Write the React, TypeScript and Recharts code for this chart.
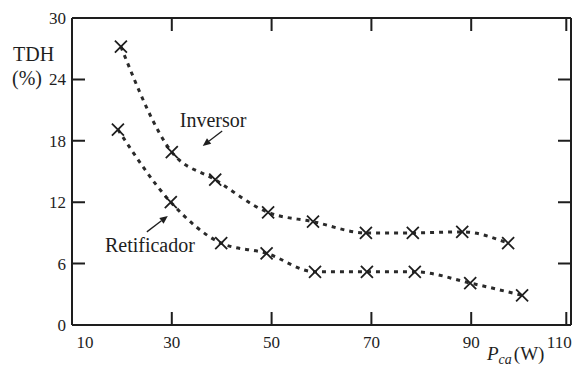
import React from 'react';
import { LineChart, Line, XAxis, YAxis, ReferenceLine, ReferenceDot, Label } from 'recharts';

const inversorP = [19.8, 30, 38.7, 49.3, 58.3, 68.9, 78.3, 88.2, 97.4];
const inversorTdh = [27.2, 16.9, 14.2, 11.0, 10.1, 9.0, 9.0, 9.1, 8.0];
const retificadorP = [19.2, 29.8, 39.9, 49.0, 58.7, 69.1, 78.7, 89.8, 100.2];
const retificadorTdh = [19.1, 12.0, 8.0, 7.0, 5.2, 5.2, 5.2, 4.1, 2.9];
const xTicks = [10, 30, 50, 70, 90, 110];
const yTicks = [0, 6, 12, 18, 24, 30];

const inversorData = inversorP.map((p, i) => ({ p, tdh: inversorTdh[i] }));
const retificadorData = retificadorP.map((p, i) => ({ p, tdh: retificadorTdh[i] }));

const FONT = '"Liberation Serif", "Times New Roman", serif';
const INK = '#1e1e1e';
const TICK = 13;

const W = 578;
const H = 366;
const M = { top: 18, right: 7, left: 72, bottom: 41 };
const PLOT_W = W - M.left - M.right;
const PLOT_H = H - M.top - M.bottom;

const XMark = (props: any) => {
  const { cx, cy } = props;
  if (cx == null || cy == null) return null;
  const s = 6;
  return (
    <path
      key={`m-${cx}-${cy}`}
      d={`M${cx - s},${cy - s}L${cx + s},${cy + s}M${cx + s},${cy - s}L${cx - s},${cy + s}`}
      stroke={INK}
      strokeWidth={1.8}
      fill="none"
    />
  );
};

// inward ticks on bottom and top of the frame, labels below
const BottomTick = (props: any) => {
  const { x, y, payload } = props;
  const v = payload.value;
  const dx = v === 10 ? 13 : v === 110 ? -7 : 0;
  const top = y - PLOT_H;
  return (
    <g>
      <path d={`M${x},${y}V${y - TICK}M${x},${top}V${top + TICK}`} stroke={INK} strokeWidth={2} fill="none" />
      <text x={x + dx} y={y} dy={23} textAnchor="middle" fontFamily={FONT} fontSize={17} fill={INK}>
        {v}
      </text>
    </g>
  );
};

// inward ticks on left and right of the frame, labels to the left
const LeftTick = (props: any) => {
  const { x, y, payload } = props;
  const right = x + PLOT_W;
  return (
    <g>
      <path d={`M${x},${y}H${x + TICK}M${right},${y}H${right - TICK}`} stroke={INK} strokeWidth={2} fill="none" />
      <text x={x - 6} y={y} dy={6} textAnchor="end" fontFamily={FONT} fontSize={17} fill={INK}>
        {payload.value}
      </text>
    </g>
  );
};

const Arrow = (props: any) => {
  const { x1, y1, x2, y2 } = props;
  const a = Math.atan2(y2 - y1, x2 - x1);
  const L = 8;
  const Wd = 3.5;
  const bx = x2 - L * Math.cos(a);
  const by = y2 - L * Math.sin(a);
  const nx = -Math.sin(a) * Wd;
  const ny = Math.cos(a) * Wd;
  return (
    <g>
      <line x1={x1} y1={y1} x2={bx} y2={by} stroke={INK} strokeWidth={1.3} />
      <polygon points={`${x2},${y2} ${bx + nx},${by + ny} ${bx - nx},${by - ny}`} fill={INK} />
    </g>
  );
};

const note = (text: string) => (props: any) => (
  <text x={props.cx} y={props.cy} fontFamily={FONT} fontSize={20} fill={INK}>
    {text}
  </text>
);

const axisLine = { stroke: INK, strokeWidth: 2 };

const App = () => (
  <div style={{ position: 'absolute', left: 0, top: 0, background: '#fff' }}>
    <LineChart width={W} height={H} margin={{ top: M.top, right: M.right, left: 0, bottom: 0 }}>
      <XAxis
        dataKey="p"
        type="number"
        domain={[10, 110]}
        ticks={xTicks}
        allowDataOverflow
        height={M.bottom}
        tickSize={0}
        tickMargin={0}
        tickLine={false}
        tick={<BottomTick />}
        axisLine={axisLine}
      >
        <Label
          content={(p: any) => {
            const vb = p.viewBox;
            return (
              <text x={vb.x + vb.width - 84} y={vb.y + 35} fontFamily={FONT} fontSize={19} fill={INK}>
                <tspan fontStyle="italic">P</tspan>
                <tspan fontStyle="italic" fontSize={14} dy={4}>ca</tspan>
                <tspan dy={-4} dx={2}>(W)</tspan>
              </text>
            );
          }}
        />
      </XAxis>
      <YAxis
        type="number"
        domain={[0, 30]}
        ticks={yTicks}
        allowDataOverflow
        width={M.left}
        tickSize={0}
        tickMargin={0}
        tickLine={false}
        tick={<LeftTick />}
        axisLine={axisLine}
      >
        <Label
          content={(p: any) => {
            const vb = p.viewBox;
            return (
              <g fontFamily={FONT} fontSize={20} fill={INK}>
                <text x={vb.x + 13} y={vb.y + 43}>TDH</text>
                <text x={vb.x + 12} y={vb.y + 67}>(%)</text>
              </g>
            );
          }}
        />
      </YAxis>
      {/* top and right sides of the frame */}
      <ReferenceLine y={30} stroke={INK} strokeWidth={2} />
      <ReferenceLine x={110} stroke={INK} strokeWidth={2} />
      <Line
        data={inversorData}
        dataKey="tdh"
        type="monotone"
        stroke="#2a2a2a"
        strokeWidth={3}
        strokeDasharray="4 5"
        dot={<XMark />}
        activeDot={false}
        isAnimationActive={false}
      />
      <Line
        data={retificadorData}
        dataKey="tdh"
        type="monotone"
        stroke="#2a2a2a"
        strokeWidth={3}
        strokeDasharray="4 5"
        dot={<XMark />}
        activeDot={false}
        isAnimationActive={false}
      />
      <ReferenceLine segment={[{ x: 40.1, y: 18.95 }, { x: 36.2, y: 17.5 }]} shape={<Arrow />} />
      <ReferenceLine segment={[{ x: 25.0, y: 9.1 }, { x: 29.2, y: 10.65 }]} shape={<Arrow />} />
      <ReferenceDot x={31.6} y={19.35} r={0} shape={note('Inversor')} />
      <ReferenceDot x={16.6} y={7.1} r={0} shape={note('Retificador')} />
    </LineChart>
  </div>
);

export default App;
